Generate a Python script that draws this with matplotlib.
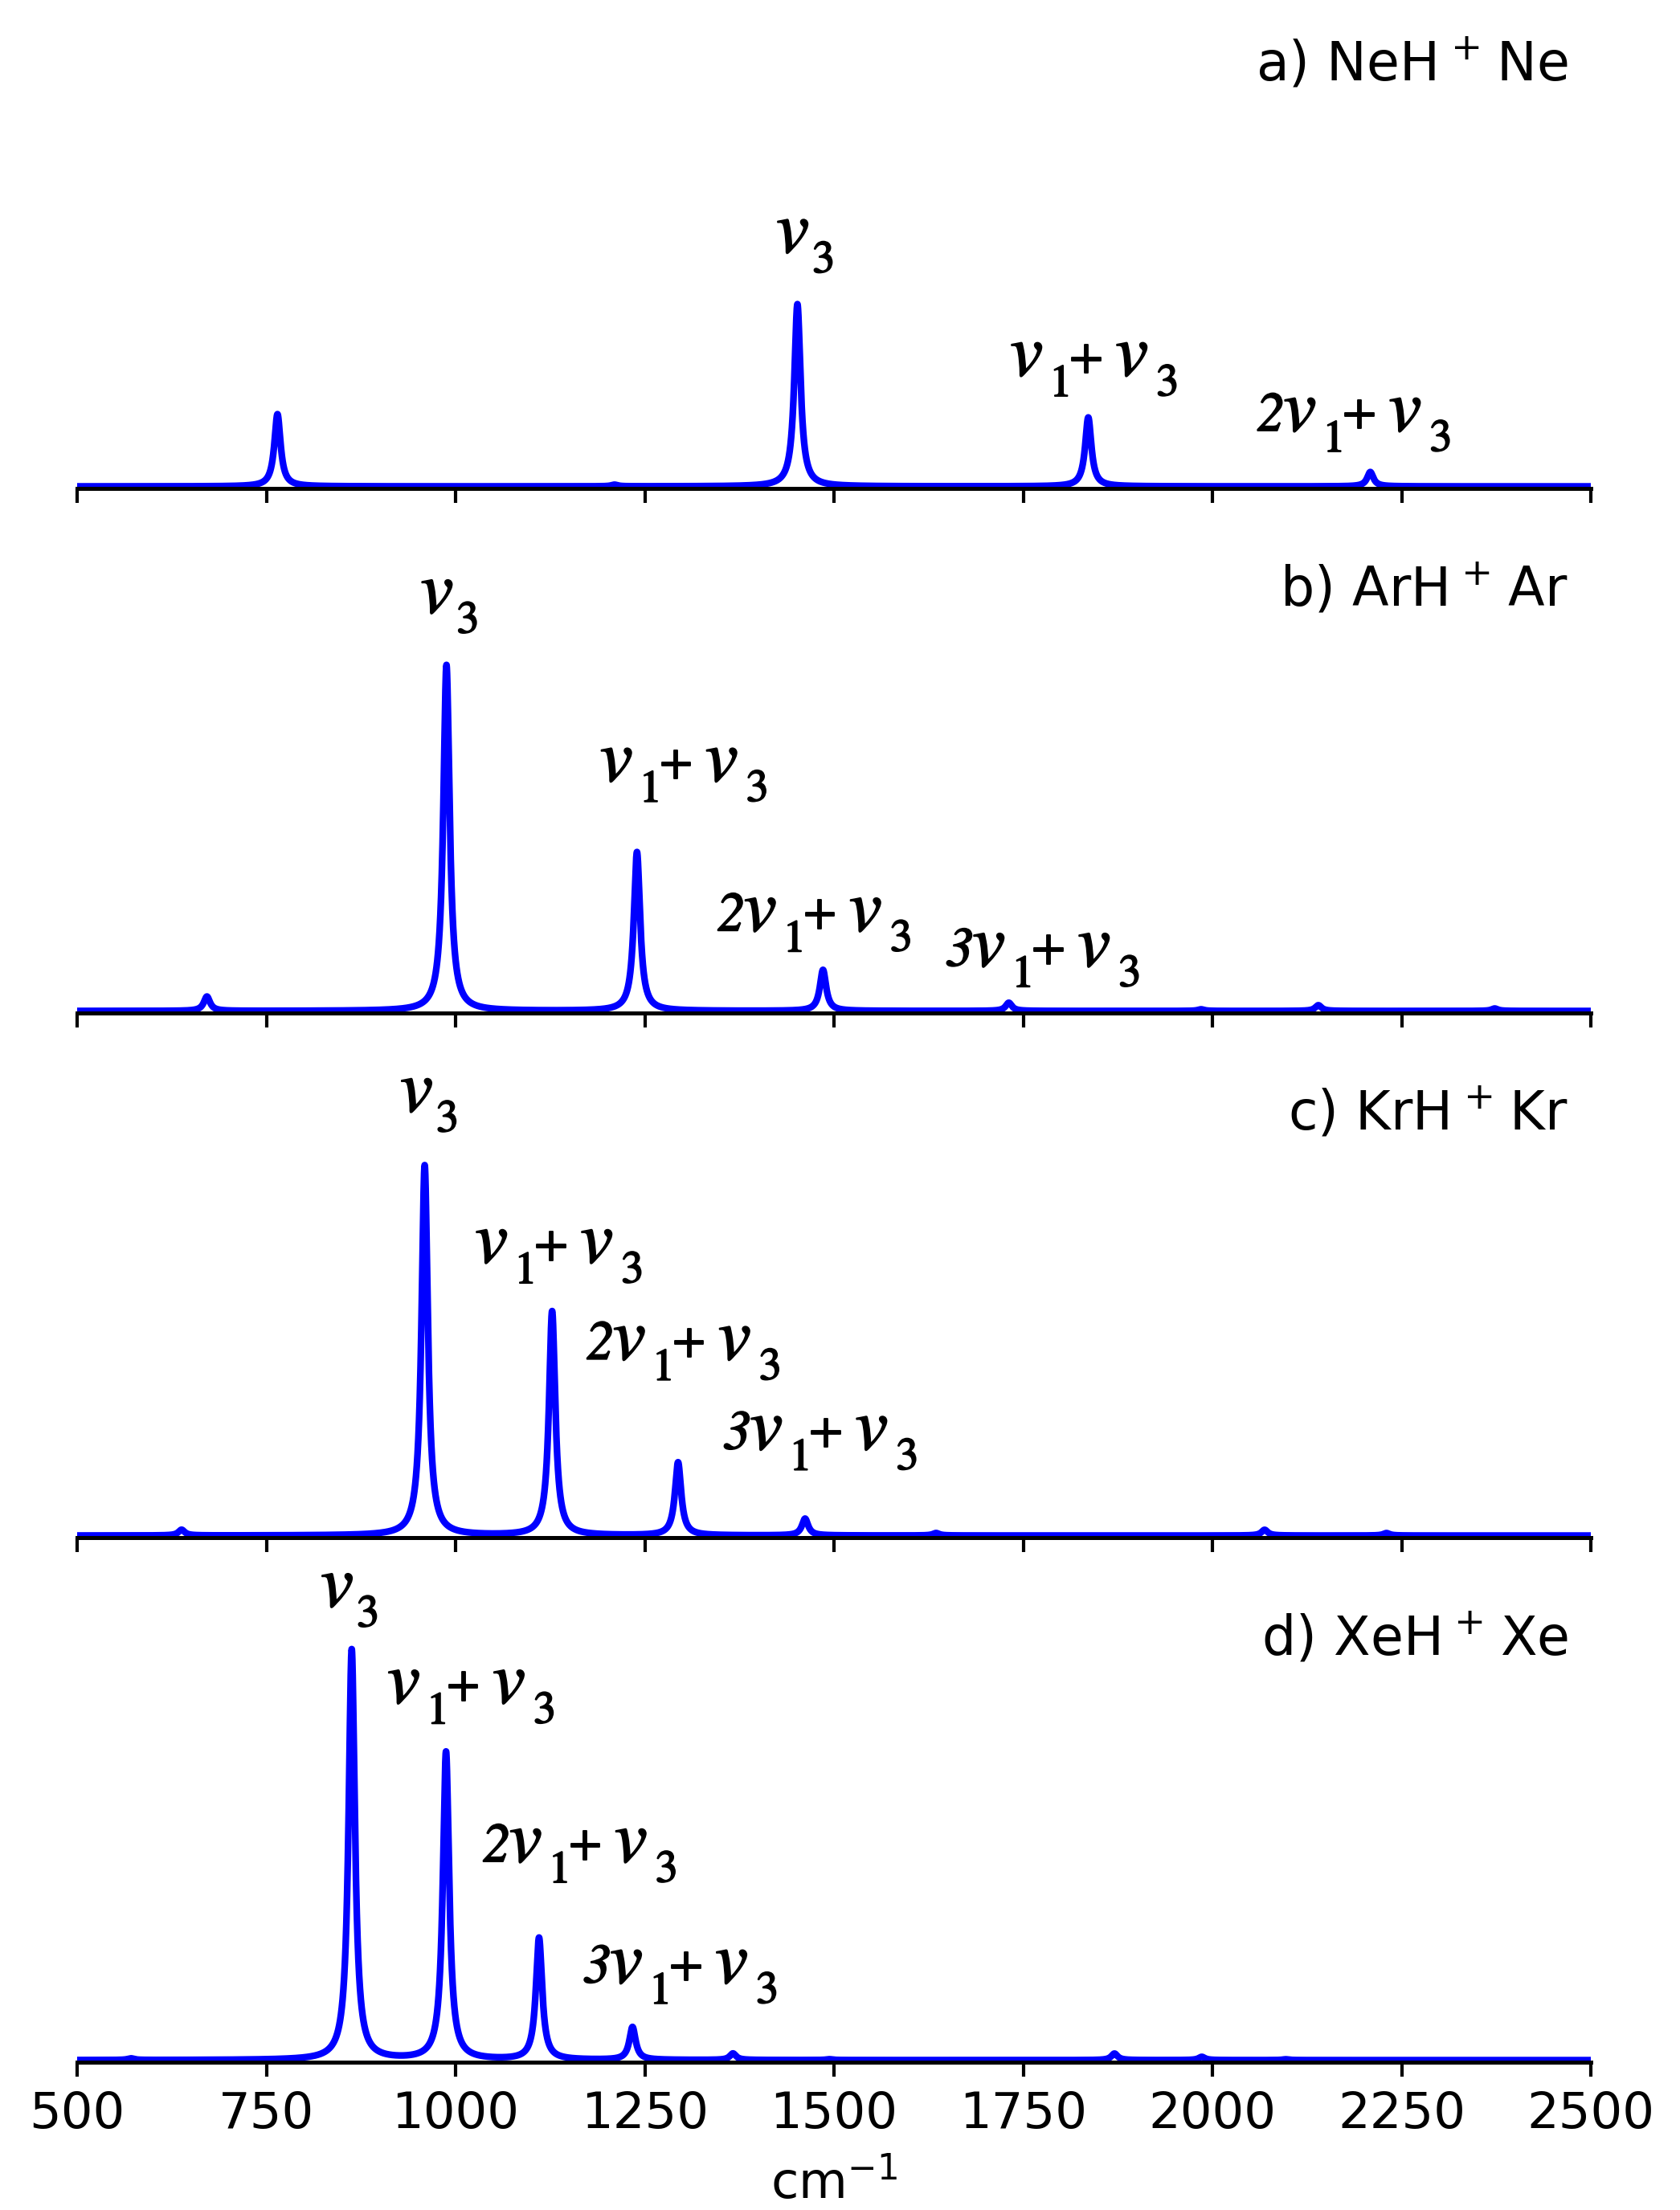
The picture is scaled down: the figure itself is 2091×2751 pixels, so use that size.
import numpy as np
import matplotlib
matplotlib.use("Agg")
import matplotlib.pyplot as plt
import matplotlib.patheffects as pe
from matplotlib.transforms import offset_copy

plt.rcParams['font.family'] = ['DejaVu Sans']

# ---------------- data (peak centres in cm^-1, relative intensities) -------------
panel_titles = [r'a) NeH$^{\hspace{0.08}+\,}$Ne', r'b) ArH$^{\hspace{0.08}+\,}$Ar',
                r'c) KrH$^{\hspace{0.08}+\,}$Kr', r'd) XeH$^{\hspace{0.08}+\,}$Xe']

neh_pos = [764.7, 1210.0, 1451.7, 1836.0, 2208.6]
neh_int = [17.6, 0.4, 44.4, 16.8, 3.5]
arh_pos = [671.5, 988.0, 1239.7, 1485.5, 1731.0, 1985.0, 2140.0, 2373.0]
arh_int = [3.5, 84.3, 38.7, 10.0, 2.0, 0.4, 1.4, 0.6]
krh_pos = [638.0, 959.2, 1127.6, 1294.0, 1461.8, 1634.9, 2069.0, 2230.0]
krh_int = [1.4, 90.2, 54.6, 17.8, 4.1, 0.6, 1.4, 0.6]
xeh_pos = [571.0, 862.8, 987.4, 1110.3, 1233.8, 1366.5, 1494.0, 1870.6, 1986.0, 2097.0]
xeh_int = [0.4, 100.0, 75.0, 29.7, 8.0, 1.6, 0.2, 1.6, 0.8, 0.2]
hwhm = 5.0  # Lorentzian half width (cm^-1)

# band assignments: label key, x of label start (cm^-1), y of label baseline
neh_labels = ['v3', 'v1+v3', '2v1+v3']
neh_lab_x = [1427, 1736, 2061]
neh_lab_y = [57.1, 27.1, 13.6]
arh_labels = ['v3', 'v1+v3', '2v1+v3', '3v1+v3']
arh_lab_x = [957, 1194, 1348, 1649]
arh_lab_y = [97.1, 56.1, 19.6, 11.0]
krh_labels = ['v3', 'v1+v3', '2v1+v3', '3v1+v3']
krh_lab_x = [930, 1029, 1175, 1355]
krh_lab_y = [103.4, 66.6, 43.0, 21.1]
xeh_labels = ['v3', 'v1+v3', '2v1+v3', '3v1+v3']
xeh_lab_x = [825, 913, 1038, 1170]
xeh_lab_y = [110.6, 87.1, 48.4, 18.9]

xticks = [500, 750, 1000, 1250, 1500, 1750, 2000, 2250, 2500]

panels = [
    (neh_pos, neh_int, neh_labels, neh_lab_x, neh_lab_y),
    (arh_pos, arh_int, arh_labels, arh_lab_x, arh_lab_y),
    (krh_pos, krh_int, krh_labels, krh_lab_x, krh_lab_y),
    (xeh_pos, xeh_int, xeh_labels, xeh_lab_x, xeh_lab_y),
]

# ---------------- label typography ----------------
SERIF = 'STIXGeneral'
V = 22
SUB = 13.5
PLUS = 14.5
PRE = 16.5
SUB_DROP = 26     # px below baseline (ink bottom)
PLUS_CENTER = 20  # px above baseline (ink centre)
def v_piece(gap=0):
    return ('v', V, 'italic', 'base', gap)
def sub_piece(d, gap):
    return (d, SUB, 'normal', 'sub', gap)
def plus_piece():
    return ('+', PLUS, 'normal', 'plus', 7)
label_pieces = {
    'v3': [v_piece(), sub_piece('3', 7)],
    'v1+v3': [v_piece(), sub_piece('1', 15), plus_piece(), v_piece(21), sub_piece('3', 13)],
    '2v1+v3': [('2', PRE, 'italic', 'base', 0), v_piece(4), sub_piece('1', 15), plus_piece(),
               v_piece(21), sub_piece('3', 13)],
    '3v1+v3': [('3', PRE, 'italic', 'base', 0), v_piece(4), sub_piece('1', 15), plus_piece(),
               v_piece(21), sub_piece('3', 13)],
}
thicken = [pe.withStroke(linewidth=0.45, foreground='black')]

W, H = 2091, 2751
dpi = 300

_ink_cache = {}
def ink(s, size, style):
    """ink extents (px) of a glyph relative to its left/baseline anchor"""
    key = (s, size, style)
    if key not in _ink_cache:
        f2 = plt.figure(figsize=(2, 2), dpi=dpi)
        f2.text(150 / 600, 300 / 600, s, fontsize=size, family=SERIF, style=style,
                ha='left', va='baseline')
        f2.canvas.draw()
        buf = np.asarray(f2.canvas.buffer_rgba())[:, :, 0].astype(float)
        plt.close(f2)
        m = buf < 140
        cols = np.where(m.any(axis=0))[0]
        rows = np.where(m.any(axis=1))[0]
        base_row = 600 - 300
        _ink_cache[key] = (cols.min() - 150, cols.max() + 1 - 150,
                           base_row - (rows.max() + 1), base_row - rows.min())
    return _ink_cache[key]

fig = plt.figure(figsize=(W / dpi, H / dpi), dpi=dpi)

left = 96 / W
width = 1884 / W
spines_px = [608, 1261, 1914, 2567]
ax_h_px = 600
px_per_unit = 5.11
y0 = -0.5
y1 = ax_h_px / px_per_unit + y0
x = np.linspace(500, 2500, 40001)


def draw_label(ax, key, xd, yd):
    right = 0.0
    for s, size, style, kind, gap in label_pieces[key]:
        l, r, b, t = ink(s, size, style)
        L = right + gap
        if kind == 'sub':
            dy = -SUB_DROP - b
        elif kind == 'plus':
            dy = PLUS_CENTER - (b + t) / 2.0
        else:
            dy = 0
        tr = offset_copy(ax.transData, fig=fig, x=L - l, y=dy, units='dots')
        ax.text(xd, yd, s, transform=tr, fontsize=size, family=SERIF,
                style=style, ha='left', va='baseline', path_effects=thicken)
        right = L + (r - l)


for i, (pos, inten, labs, lx, ly) in enumerate(panels):
    bottom = (H - spines_px[i]) / H
    ax = fig.add_axes([left, bottom, width, ax_h_px / H])
    y = np.zeros_like(x)
    for p, a in zip(pos, inten):
        y += a * hwhm ** 2 / ((x - p) ** 2 + hwhm ** 2)
    ax.plot(x, y, color='#0000ff', lw=2.0, solid_joinstyle='round')
    ax.set_xlim(500, 2500)
    ax.set_ylim(y0, y1)
    ax.set_yticks([])
    for s in ['top', 'right', 'left']:
        ax.spines[s].set_visible(False)
    ax.spines['bottom'].set_linewidth(1.2)
    ax.set_xticks(xticks)
    ax.tick_params(axis='x', direction='out', length=4.3, width=1.0, pad=4.2, labelsize=15)
    if i < 3:
        ax.tick_params(axis='x', labelbottom=False)
    else:
        ax.set_xlabel(r'cm$^{-1}$', fontsize=15, labelpad=6)
    ax.patch.set_alpha(0)
    ax.text(0.985, 508 / ax_h_px, panel_titles[i], transform=ax.transAxes,
            ha='right', va='baseline', fontsize=16)
    for key, xx, yy in zip(labs, lx, ly):
        draw_label(ax, key, xx, yy)

fig.savefig('out.png', dpi=dpi)
